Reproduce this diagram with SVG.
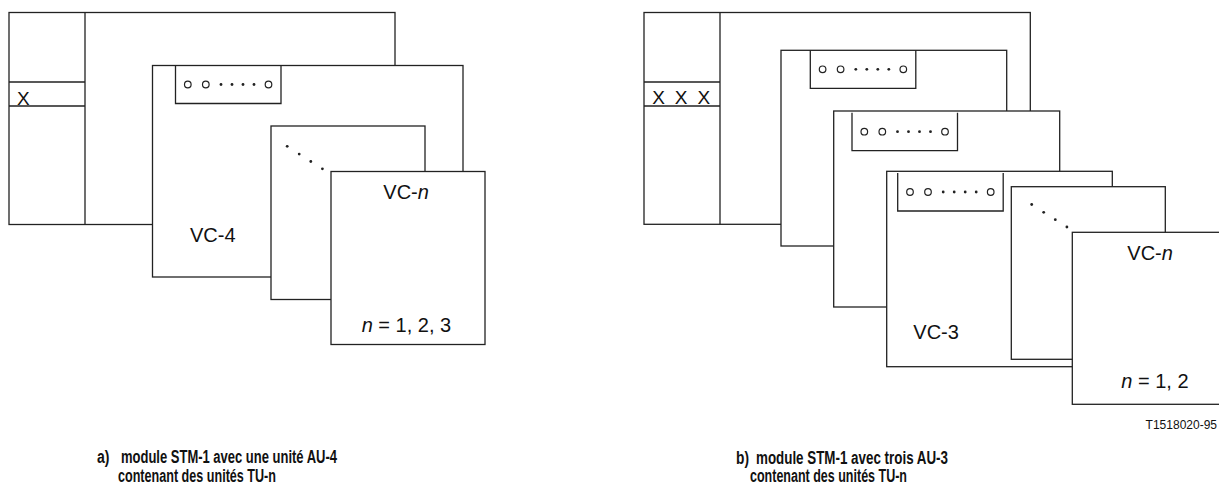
<svg xmlns="http://www.w3.org/2000/svg" width="1219" height="495" viewBox="0 0 1219 495">
<style>
.box{fill:#fff;stroke:#222;stroke-width:1.3}
.ln{fill:none;stroke:#222;stroke-width:1.3}
.ring{fill:#fff;stroke:#222;stroke-width:1.2}
.dot{fill:#222}
.t{font-family:"Liberation Sans",Arial,sans-serif;font-size:20px;fill:#111}
.x{font-family:"Liberation Sans",Arial,sans-serif;font-size:19px;fill:#111}
.cap{font-family:"Liberation Sans",Arial,sans-serif;font-size:18px;font-weight:bold;fill:#111}
.ref{font-family:"Liberation Sans",Arial,sans-serif;font-size:12px;fill:#111}
</style>
<defs>
<g id="ptr">
<path class="ln" d="M0,0 V38 H105.5 V0"/>
<circle class="ring" cx="12.3" cy="19" r="3.3"/>
<circle class="ring" cx="30.3" cy="19" r="3.3"/>
<circle class="dot" cx="45.5" cy="19" r="1.4"/>
<circle class="dot" cx="56.5" cy="19" r="1.4"/>
<circle class="dot" cx="67.5" cy="19" r="1.4"/>
<circle class="dot" cx="78.5" cy="19" r="1.4"/>
<circle class="ring" cx="93" cy="19" r="3.3"/>
</g>
<g id="diag">
<circle class="dot" cx="0" cy="0" r="1.4"/>
<circle class="dot" cx="12" cy="7.8" r="1.4"/>
<circle class="dot" cx="23.6" cy="15.2" r="1.4"/>
<circle class="dot" cx="35.2" cy="22.5" r="1.4"/>
</g>
</defs>

<g id="connectors"></g>

<!-- Diagram a -->
<g id="a-stm1">
<rect class="box" x="9" y="12.5" width="386" height="212"/>
<path class="ln" d="M85,12.5 V224.5 M9,82 H85 M9,106 H85"/>
<text class="x" x="17" y="104.5">X</text>
</g>
<g id="a-vc4">
<rect class="box" x="152.5" y="65.5" width="310.5" height="211.5"/>
<use href="#ptr" x="175.5" y="65.5"/>
<text class="t" x="190" y="241.7">VC-4</text>
</g>
<g id="a-vcn-back">
<rect class="box" x="271" y="126" width="154" height="173.5"/>
<use href="#diag" x="287.2" y="146.3"/>
</g>
<g id="a-vcn">
<rect class="box" x="331" y="171.5" width="154" height="173"/>
<text class="t" x="383.3" y="199">VC-<tspan font-style="italic">n</tspan></text>
<text class="t" x="361.7" y="331.7"><tspan font-style="italic">n</tspan> = 1, 2, 3</text>
</g>
<g id="a-caption">
<text class="cap" x="97" y="463.3" textLength="12.5" lengthAdjust="spacingAndGlyphs">a)</text>
<text class="cap" x="121" y="463.3" textLength="216" lengthAdjust="spacingAndGlyphs">module STM-1 avec une unité AU-4</text>
<text class="cap" x="118" y="482" textLength="158" lengthAdjust="spacingAndGlyphs">contenant des unités TU-n</text>
</g>

<!-- Diagram b -->
<g id="b-stm1">
<rect class="box" x="644" y="12.5" width="386.3" height="211.8"/>
<path class="ln" d="M720,12.5 V224.3 M644,82 H720 M644,106 H720"/>
<text class="x" x="652.3" y="104.3" word-spacing="4.6">X X X</text>
</g>
<g id="b-au3-1">
<rect class="box" x="781" y="50.3" width="225.7" height="195.7"/>
<use href="#ptr" x="810.3" y="50.3"/>
</g>
<g id="b-au3-2">
<rect class="box" x="833.7" y="111" width="226" height="196"/>
<use href="#ptr" x="852" y="112.7"/>
</g>
<g id="b-au3-3">
<rect class="box" x="886.7" y="171.3" width="225.6" height="195.4"/>
<use href="#ptr" x="897.7" y="173"/>
<text class="t" x="913.3" y="339.3">VC-3</text>
</g>
<g id="b-vcn-back">
<rect class="box" x="1011.3" y="186.7" width="154" height="172.6"/>
<use href="#diag" x="1031.7" y="204.5"/>
</g>
<g id="b-vcn">
<rect class="box" x="1072.3" y="232.3" width="160" height="172"/>
<text class="t" x="1127.3" y="260">VC-<tspan font-style="italic">n</tspan></text>
<text class="t" x="1121.3" y="387.7"><tspan font-style="italic">n</tspan> = 1, 2</text>
</g>
<text class="ref" x="1217" y="429" text-anchor="end">T1518020-95</text>
<g id="b-caption">
<text class="cap" x="736" y="463.5" textLength="13" lengthAdjust="spacingAndGlyphs">b)</text>
<text class="cap" x="756" y="463.5" textLength="192" lengthAdjust="spacingAndGlyphs">module STM-1 avec trois AU-3</text>
<text class="cap" x="750" y="482" textLength="157" lengthAdjust="spacingAndGlyphs">contenant des unités TU-n</text>
</g>
</svg>
